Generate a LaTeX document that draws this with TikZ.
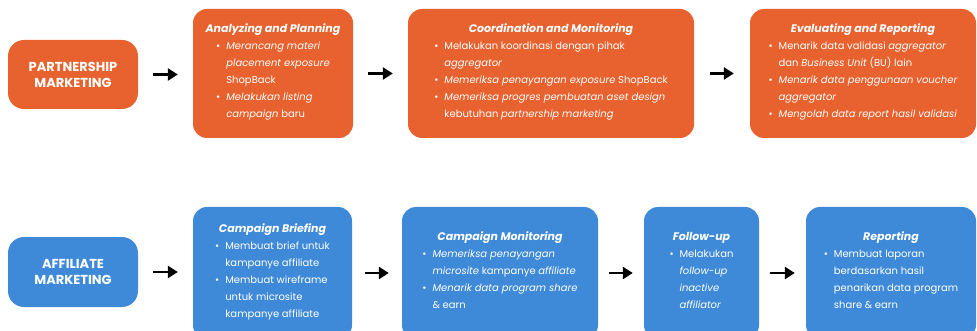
\documentclass[tikz,border=0pt]{standalone}
\usepackage{fontspec}
\setmainfont{Poppins}
\usetikzlibrary{arrows.meta}

\definecolor{partnerOrange}{HTML}{E8622F}
\definecolor{affiliateBlue}{HTML}{3F8AD8}

\newcommand{\stagetitle}[1]{{\fontsize{11}{17}\selectfont\textbf{\textit{#1}}}\\}

\begin{document}
\begin{tikzpicture}[x=1pt,y=-1pt,
    head/.style={fill=#1, rounded corners=16pt, text=white, align=center,
      font=\fontsize{13}{16}\selectfont\bfseries, inner sep=0pt,
      minimum width=130pt},
    stage/.style={fill=#1, rounded corners=14pt, text=white, align=center,
      font=\fontsize{10}{17}\selectfont, inner sep=0pt},
    flow/.style={line width=2.8pt, -{Triangle[length=10pt,width=12pt]},
      shorten <=#1, shorten >=#1}]
  \useasboundingbox (0,0) rectangle (977,331);
  \clip (0,0) rectangle (977,331);

  % partnership marketing
  \node[head=partnerOrange, minimum height=69pt] (pm) at (73,74.5)
    {PARTNERSHIP\\MARKETING};
  \node[stage=partnerOrange, minimum width=160pt, minimum height=129pt] (ap) at (273,73.5)
    {\stagetitle{Analyzing and Planning}
     \begin{tabular}[t]{@{}l@{\hspace{6pt}}l@{}}
       \textbullet & \textit{Merancang materi}\\
                   & \textit{placement exposure}\\
                   & ShopBack\\
       \textbullet & \textit{Melakukan listing}\\
                   & \textit{campaign} baru
     \end{tabular}};
  \node[stage=partnerOrange, minimum width=286pt, minimum height=129pt] (cm) at (551,73.5)
    {\stagetitle{Coordination and Monitoring}
     \begin{tabular}[t]{@{}l@{\hspace{6pt}}l@{}}
       \textbullet & Melakukan koordinasi dengan pihak\\
                   & \textit{aggregator}\\
       \textbullet & \textit{Memeriksa penayangan exposure} ShopBack\\
       \textbullet & \textit{Memeriksa progres pembuatan aset design}\\
                   & kebutuhan \textit{partnership marketing}
     \end{tabular}};
  \node[stage=partnerOrange, minimum width=226pt, minimum height=129pt] (er) at (863,73.5)
    {\stagetitle{Evaluating and Reporting}
     \begin{tabular}[t]{@{}l@{\hspace{6pt}}l@{}}
       \textbullet & Menarik data validasi \textit{aggregator}\\
                   & dan \textit{Business Unit} (BU) lain\\
       \textbullet & \textit{Menarik data penggunaan voucher}\\
                   & \textit{aggregator}\\
       \textbullet & \textit{Mengolah data report hasil validasi}
     \end{tabular}};

  % affiliate marketing
  \node[head=affiliateBlue, minimum height=70pt] (am) at (73,272)
    {AFFILIATE\\MARKETING};
  \node[stage=affiliateBlue, minimum width=159pt, minimum height=132pt] (cb) at (272.5,273)
    {\stagetitle{Campaign Briefing}
     \begin{tabular}[t]{@{}l@{\hspace{6pt}}l@{}}
       \textbullet & Membuat brief untuk\\
                   & kampanye affiliate\\
       \textbullet & Membuat wireframe\\
                   & untuk microsite\\
                   & kampanye affiliate
     \end{tabular}};
  \node[stage=affiliateBlue, minimum width=196pt, minimum height=132pt] (mo) at (500,273)
    {\stagetitle{Campaign Monitoring}
     \begin{tabular}[t]{@{}l@{\hspace{6pt}}l@{}}
       \textbullet & \textit{Memeriksa penayangan}\\
                   & \textit{microsite} kampanye \textit{affiliate}\\
       \textbullet & \textit{Menarik data program share}\\
                   & \& earn
     \end{tabular}};
  \node[stage=affiliateBlue, minimum width=115pt, minimum height=132pt] (fu) at (701.5,273)
    {\stagetitle{Follow-up}
     \begin{tabular}[t]{@{}l@{\hspace{6pt}}l@{}}
       \textbullet & Melakukan\\
                   & \textit{follow-up}\\
                   & \textit{inactive}\\
                   & \textit{affiliator}
     \end{tabular}};
  \node[stage=affiliateBlue, minimum width=170pt, minimum height=132pt] (rp) at (891,273)
    {\stagetitle{Reporting}
     \begin{tabular}[t]{@{}l@{\hspace{6pt}}l@{}}
       \textbullet & Membuat laporan\\
                   & berdasarkan hasil\\
                   & penarikan data program\\
                   & share \& earn
     \end{tabular}};

  \draw[flow=15pt] (pm.east) -- (pm.east -| ap.west);
  \draw[flow=15pt] (ap.east) -- (cm.west);
  \draw[flow=16pt] (cm.east) -- (er.west);
  \draw[flow=15pt] (am.east) -- (am.east -| cb.west);
  \draw[flow=13pt] (cb.east) -- (mo.west);
  \draw[flow=11pt] (mo.east) -- (fu.west);
  \draw[flow=11pt] (fu.east) -- (rp.west);
\end{tikzpicture}
\end{document}
